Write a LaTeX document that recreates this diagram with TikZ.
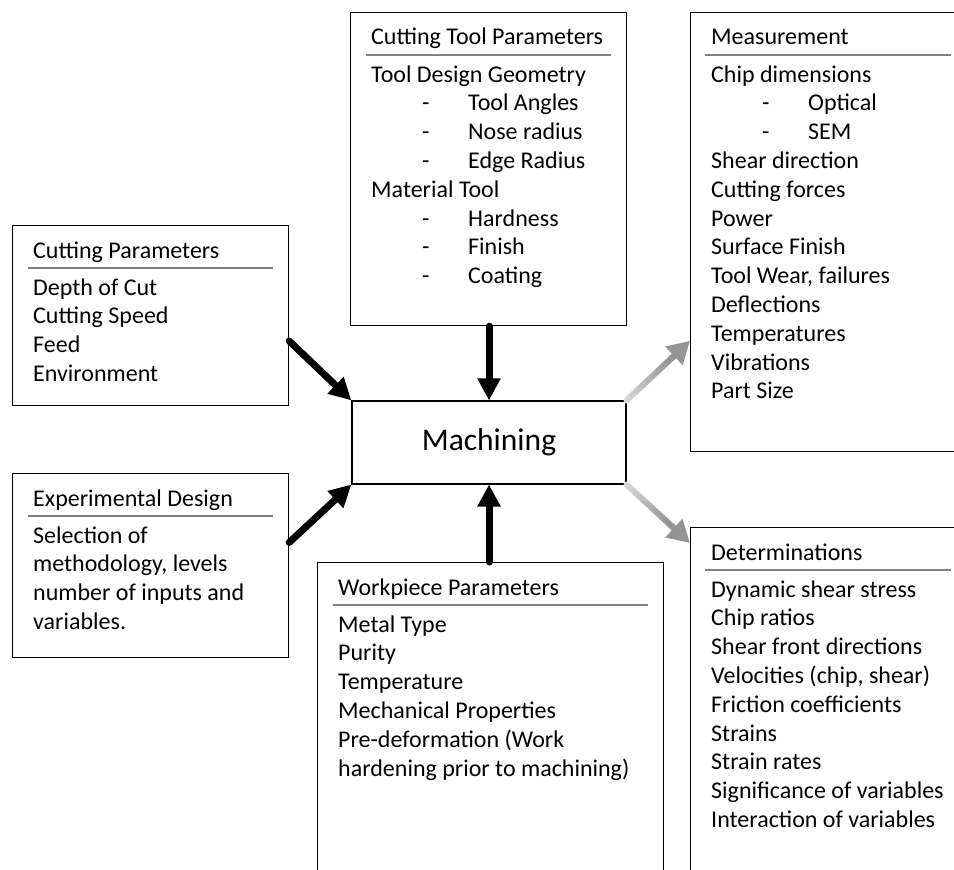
\documentclass[tikz,border=0pt]{standalone}
\usepackage{fontspec}
\setmainfont{Carlito}
\usetikzlibrary{arrows.meta,calc}

\tikzset{
  box/.style={draw, line width=1.2pt, anchor=north west, inner sep=0pt, minimum width=276pt},
  txt/.style={anchor=base west, inner sep=0pt, font=\fontsize{24}{29}\selectfont},
  hrule/.style={draw=black!50, line width=2pt},
  blackarrow/.style={line width=7pt, line cap=round, -{Triangle[length=22pt,width=22pt]}},
  grayshaft/.style={line width=6pt, line cap=round},
  grayhead/.style={line width=6pt, black!42, -{Triangle[length=22pt,width=24pt]}}
}

\begin{document}
\begin{tikzpicture}[x=1pt,y=-1pt]
\useasboundingbox (0,0) rectangle (954,870);
\clip (0,0) rectangle (954,870);

% boxes
\node[box, minimum height=313pt] (ctool) at (350,12) {};
\node[box, minimum height=439pt] (meas) at (690,12) {};
\node[box, minimum height=180pt] (cpar) at (12,225) {};
\node[box, minimum height=184pt] (expd) at (12,473) {};
\node[box, minimum width=346pt, minimum height=338pt] (work) at (317,562) {};
\node[box, minimum height=373pt] (det) at (690,527) {};
\node[draw, line width=1.2pt, minimum width=274pt, minimum height=83pt, font=\fontsize{31.5}{36}\selectfont] (mach) at (489,442.5) {Machining};

% cutting tool parameters
\node[txt] (ctooltitle) at (371,45) {Cutting Tool Parameters};
\draw[hrule] (366,55) -- (611,55);
\node[txt] at (371,82) {Tool Design Geometry};
\node[txt] at (422,110.8) {-};
\node[txt] at (468,110.8) {Tool Angles};
\node[txt] at (422,139.6) {-};
\node[txt] at (468,139.6) {Nose radius};
\node[txt] at (422,168.4) {-};
\node[txt] at (468,168.4) {Edge Radius};
\node[txt] at (371,197.2) {Material Tool};
\node[txt] at (422,226) {-};
\node[txt] at (468,226) {Hardness};
\node[txt] at (422,254.8) {-};
\node[txt] at (468,254.8) {Finish};
\node[txt] at (422,283.6) {-};
\node[txt] at (468,283.6) {Coating};

% measurement
\node[txt] (meastitle) at (711,45) {Measurement};
\draw[hrule] (705,55) -- (951,55);
\node[txt] at (711,82) {Chip dimensions};
\node[txt] at (762,110.8) {-};
\node[txt] at (808,110.8) {Optical};
\node[txt] at (762,139.6) {-};
\node[txt] at (808,139.6) {SEM};
\node[txt] at (711,168.4) {Shear direction};
\node[txt] at (711,197.2) {Cutting forces};
\node[txt] at (711,226) {Power};
\node[txt] at (711,254.8) {Surface Finish};
\node[txt] at (711,283.6) {Tool Wear, failures};
\node[txt] at (711,312.4) {Deflections};
\node[txt] at (711,341.2) {Temperatures};
\node[txt] at (711,370) {Vibrations};
\node[txt] at (711,398.8) {Part Size};

% cutting parameters
\node[txt] (cpartitle) at (33,258) {Cutting Parameters};
\draw[hrule] (28,268) -- (273,268);
\node[txt] at (33,295) {Depth of Cut};
\node[txt] at (33,323.8) {Cutting Speed};
\node[txt] at (33,352.6) {Feed};
\node[txt] at (33,381.4) {Environment};

% experimental design
\node[txt] (expdtitle) at (33,506) {Experimental Design};
\draw[hrule] (28,516) -- (273,516);
\node[txt] at (33,543) {Selection of};
\node[txt] at (33,571.8) {methodology, levels};
\node[txt] at (33,600.6) {number of inputs and};
\node[txt] at (33,629.4) {variables.};

% workpiece parameters
\node[txt] (worktitle) at (338,595) {Workpiece Parameters};
\draw[hrule] (333,605) -- (648,605);
\node[txt] at (338,632) {Metal Type};
\node[txt] at (338,660.8) {Purity};
\node[txt] at (338,689.6) {Temperature};
\node[txt] at (338,718.4) {Mechanical Properties};
\node[txt] at (338,747.2) {Pre-deformation (Work};
\node[txt] at (338,776) {hardening prior to machining)};

% determinations
\node[txt] (dettitle) at (711,560) {Determinations};
\draw[hrule] (705,570) -- (951,570);
\node[txt] at (711,597) {Dynamic shear stress};
\node[txt] at (711,625.8) {Chip ratios};
\node[txt] at (711,654.6) {Shear front directions};
\node[txt] at (711,683.4) {Velocities (chip, shear)};
\node[txt] at (711,712.2) {Friction coefficients};
\node[txt] at (711,741) {Strains};
\node[txt] at (711,769.8) {Strain rates};
\node[txt] at (711,798.6) {Significance of variables};
\node[txt] at (711,827.4) {Interaction of variables};

% inputs
\coordinate (cparout) at ($(cpar.north east)!0.64!(cpar.south east)$);
\coordinate (expdout) at ($(expd.north east)!0.375!(expd.south east)$);
\draw[blackarrow] (cparout) -- (mach.north west);
\draw[blackarrow] (expdout) -- (mach.south west);
\draw[blackarrow] (ctool.south -| mach.north) -- (mach.north);
\draw[blackarrow] (work.north -| mach.south) -- (mach.south);

% outputs
\coordinate (measin) at ($(meas.north west)!0.747!(meas.south west)$);
\coordinate (detin) at ($(det.north west)+(0,16)$);
\foreach \k [evaluate=\k as \c using 15+2*\k] in {0,...,14}
  \draw[grayshaft, black!\c] ($(mach.north east)!\k/20!(measin)$) -- ($(mach.north east)!\k/20+0.06!(measin)$);
\draw[grayhead] ($(mach.north east)!0.7!(measin)$) -- (measin);
\foreach \k [evaluate=\k as \c using 15+2*\k] in {0,...,14}
  \draw[grayshaft, black!\c] ($(mach.south east)!\k/20!(detin)$) -- ($(mach.south east)!\k/20+0.06!(detin)$);
\draw[grayhead] ($(mach.south east)!0.7!(detin)$) -- (detin);

\end{tikzpicture}
\end{document}
